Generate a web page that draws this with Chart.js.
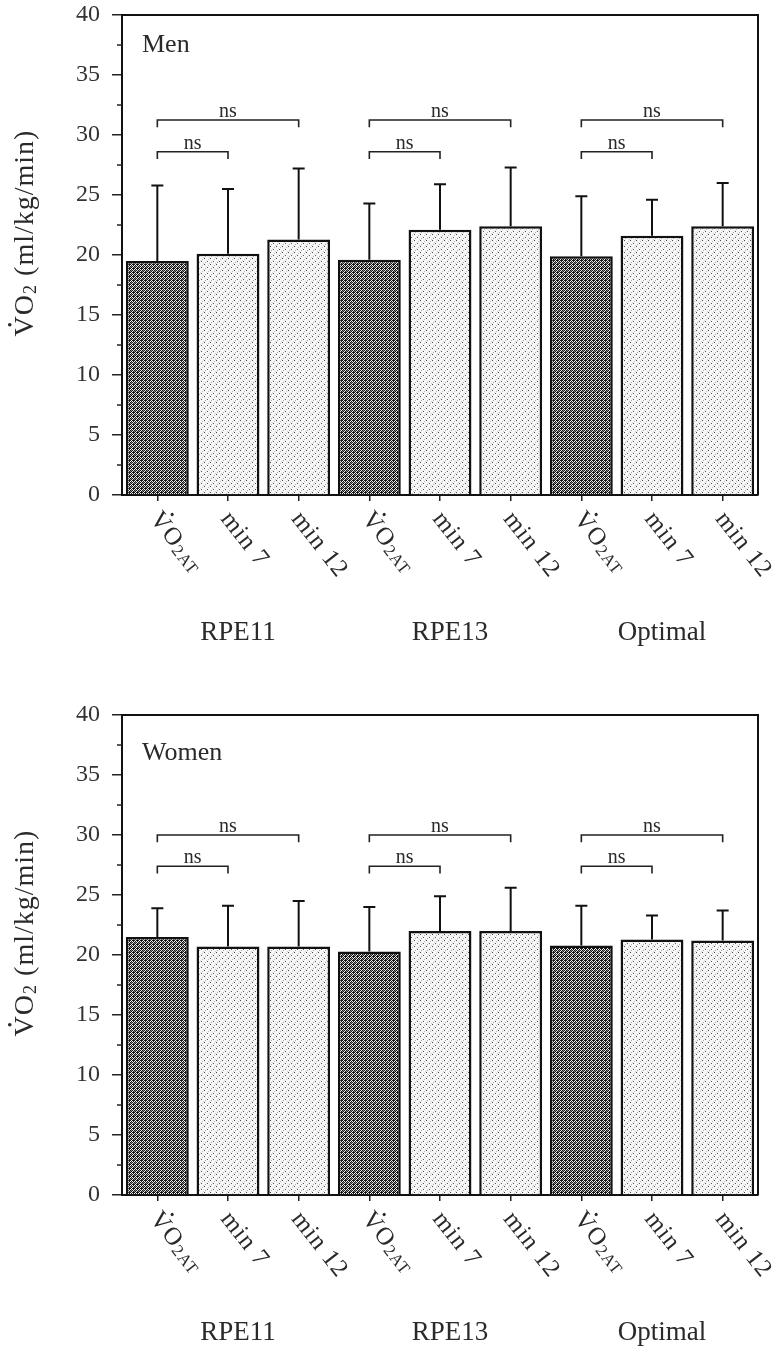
<!DOCTYPE html>
<html>
<head>
<meta charset="utf-8">
<script src="https://cdn.jsdelivr.net/npm/chart.js@4.4.1/dist/chart.umd.min.js"></script>
<style>
  html, body { margin: 0; padding: 0; background: #fff; }
  .panel { position: absolute; left: 0; width: 777px; height: 650px; }
</style>
</head>
<body>
<div class="panel" style="top:0px"><canvas id="men" width="777" height="650"></canvas></div>
<div class="panel" style="top:700px"><canvas id="women" width="777" height="650"></canvas></div>
<script>
// ---------- data ----------
const categories = ['VO2AT', 'min 7', 'min 12', 'VO2AT', 'min 7', 'min 12', 'VO2AT', 'min 7', 'min 12'];
const groupLabels = ['RPE11', 'RPE13', 'Optimal'];
const groupMiddleIndex = [1, 4, 7];

const menMean = [19.5, 20.1, 21.3, 19.6, 22.1, 22.4, 19.9, 21.6, 22.4];
const menSD   = [6.3, 5.4, 5.9, 4.7, 3.8, 4.9, 5.0, 3.0, 3.6];

const womenMean = [21.5, 20.7, 20.7, 20.3, 22.0, 22.0, 20.8, 21.3, 21.2];
const womenSD   = [2.4, 3.4, 3.8, 3.7, 2.9, 3.6, 3.3, 2.0, 2.5];

const bracketFrom = [0, 0, 3, 3, 6, 6];
const bracketTo   = [1, 2, 4, 5, 7, 8];
const menBracketLevel   = [28.6, 31.25, 28.6, 31.25, 28.6, 31.25];
const womenBracketLevel = [27.4, 30.0, 27.4, 30.0, 27.4, 30.0];
const bracketText = 'ns';

const yMin = 0, yMax = 40, yStep = 5, yMinorStep = 2.5;
const yTitleSub = '2', yTitleRest = ' (ml/kg/min)';

// ---------- styles ----------
const SERIF = '"Liberation Serif", "Times New Roman", serif';
const TEXT = '#2a2a2a';
const INK = '#111';

function makePattern(kind) {
  const c = document.createElement('canvas');
  const g = c.getContext('2d');
  if (kind === 'dark') {
    c.width = 4; c.height = 4;
    g.fillStyle = '#f0f0f0'; g.fillRect(0, 0, 4, 4);
    g.fillStyle = '#161616';
    const px = [[0,0],[2,0],[1,1],[3,1],[0,2],[2,2],[1,3],[3,3],[1,0]];
    px.forEach(p => g.fillRect(p[0], p[1], 1, 1));
    g.fillStyle = '#888';
    [[3,2],[2,3]].forEach(p => g.fillRect(p[0], p[1], 1, 1));
  } else {
    c.width = 6; c.height = 6;
    g.fillStyle = '#f7f7f7'; g.fillRect(0, 0, 6, 6);
    const dots = [[0,0,'#444'],[3,3,'#555'],[4,1,'#bbb'],[1,4,'#aaa'],[2,2,'#ddd'],[5,5,'#ccc']];
    dots.forEach(d => { g.fillStyle = d[2]; g.fillRect(d[0], d[1], 1, 1); });
  }
  return g.createPattern(c, 'repeat');
}
const darkPat = makePattern('dark');
const lightPat = makePattern('light');

function drawVO2(ctx, x, y, bigSize, subSize, subText, restText) {
  ctx.font = bigSize + 'px ' + SERIF;
  const vW = ctx.measureText('V').width;
  ctx.fillText('VO', x, y);
  ctx.beginPath();
  ctx.arc(x + vW / 2 + 1, y - bigSize * 0.66 - bigSize * 0.17, bigSize * 0.065, 0, Math.PI * 2);
  ctx.fill();
  let cx = x + ctx.measureText('VO').width;
  ctx.font = subSize + 'px ' + SERIF;
  ctx.fillText(subText, cx, y + bigSize * 0.1);
  cx += ctx.measureText(subText).width;
  if (restText) {
    ctx.font = bigSize + 'px ' + SERIF;
    ctx.fillText(restText, cx, y);
    cx += ctx.measureText(restText).width;
  }
  return cx - x;
}
function measureVO2(ctx, bigSize, subSize, subText, restText) {
  ctx.font = bigSize + 'px ' + SERIF;
  let w = ctx.measureText('VO').width;
  ctx.font = subSize + 'px ' + SERIF;
  w += ctx.measureText(subText).width;
  if (restText) { ctx.font = bigSize + 'px ' + SERIF; w += ctx.measureText(restText).width; }
  return w;
}

function overlayPlugin(means, sds, levels, panelLabel, panelBaseline) {
  return {
    id: 'overlay',
    afterDraw(chart) {
      const ctx = chart.ctx;
      const a = chart.chartArea;
      const xs = chart.scales.x, ys = chart.scales.y;
      ctx.save();
      // frame (top + right)
      ctx.strokeStyle = INK; ctx.lineWidth = 2;
      ctx.beginPath();
      ctx.moveTo(a.left, a.top); ctx.lineTo(a.right, a.top); ctx.lineTo(a.right, a.bottom);
      ctx.stroke();
      // minor y ticks
      ctx.lineWidth = 1.5; ctx.strokeStyle = '#222';
      for (let v = yMin + yMinorStep; v < yMax; v += yStep) {
        const y = ys.getPixelForValue(v);
        ctx.beginPath(); ctx.moveTo(a.left - 5, y); ctx.lineTo(a.left, y); ctx.stroke();
      }
      // error bars
      ctx.strokeStyle = INK; ctx.lineWidth = 2;
      means.forEach((m, i) => {
        const x = xs.getPixelForValue(i);
        const y0 = ys.getPixelForValue(m);
        const y1 = ys.getPixelForValue(m + sds[i]);
        ctx.beginPath();
        ctx.moveTo(x, y0); ctx.lineTo(x, y1);
        ctx.moveTo(x - 6, y1); ctx.lineTo(x + 6, y1);
        ctx.stroke();
      });
      // brackets
      ctx.lineWidth = 1.6; ctx.strokeStyle = '#222'; ctx.fillStyle = TEXT;
      ctx.font = '20px ' + SERIF; ctx.textAlign = 'center'; ctx.textBaseline = 'alphabetic';
      levels.forEach((lv, k) => {
        const x0 = xs.getPixelForValue(bracketFrom[k]);
        const x1 = xs.getPixelForValue(bracketTo[k]);
        const y = ys.getPixelForValue(lv);
        const yd = ys.getPixelForValue(lv - 0.6);
        ctx.beginPath();
        ctx.moveTo(x0, yd); ctx.lineTo(x0, y); ctx.lineTo(x1, y); ctx.lineTo(x1, yd);
        ctx.stroke();
        ctx.fillText(bracketText, (x0 + x1) / 2, y - 3);
      });
      // panel label
      ctx.textAlign = 'left';
      ctx.font = '26px ' + SERIF;
      ctx.fillText(panelLabel, a.left + 20, panelBaseline);
      // rotated category labels
      categories.forEach((lab, i) => {
        const x = xs.getPixelForTick(i);
        ctx.save();
        ctx.translate(x - 8, a.bottom + 24);
        ctx.rotate(52 * Math.PI / 180);
        ctx.textAlign = 'left';
        ctx.letterSpacing = '1px';
        if (lab.startsWith('VO2')) {
          drawVO2(ctx, 0, 0, 25, 17, lab.slice(2), '');
        } else {
          ctx.font = '25px ' + SERIF;
          ctx.fillText(lab, 0, 0);
        }
        ctx.restore();
      });
      // group labels
      ctx.textAlign = 'center';
      ctx.font = '27px ' + SERIF;
      groupLabels.forEach((g, k) => {
        const x = xs.getPixelForTick(groupMiddleIndex[k]) + 10;
        ctx.fillText(g, x, 640);
      });
      // y axis title
      ctx.save();
      ctx.translate(33, (a.top + a.bottom) / 2 - 22);
      ctx.rotate(-Math.PI / 2);
      ctx.textAlign = 'left';
      ctx.letterSpacing = '1px';
      const w = measureVO2(ctx, 28, 18, yTitleSub, yTitleRest);
      drawVO2(ctx, -w / 2, 0, 28, 18, yTitleSub, yTitleRest);
      ctx.restore();
      ctx.restore();
    }
  };
}

function makeChart(id, means, sds, levels, panelLabel, panelBaseline) {
  return new Chart(document.getElementById(id), {
    type: 'bar',
    data: {
      labels: categories,
      datasets: [{
        data: means,
        backgroundColor: c => categories[c.dataIndex] === 'VO2AT' ? darkPat : lightPat,
        borderColor: INK,
        borderWidth: 2.5,
        borderSkipped: 'start',
        barPercentage: 0.89,
        categoryPercentage: 1.0
      }]
    },
    options: {
      responsive: false,
      animation: false,
      devicePixelRatio: 1,
      layout: { padding: { top: 15, right: 19, left: 0, bottom: 0 } },
      plugins: { legend: { display: false }, tooltip: { enabled: false }, title: { display: false } },
      scales: {
        x: {
          offset: true,
          grid: { display: true, offset: false, drawOnChartArea: false, drawTicks: true, tickLength: 6, color: '#222', lineWidth: 1.5 },
          border: { display: true, color: INK, width: 2 },
          ticks: { display: false },
          afterFit(s) { s.height = 155; }
        },
        y: {
          min: yMin, max: yMax,
          ticks: { stepSize: yStep, font: { family: SERIF, size: 24 }, color: '#333', padding: 12 },
          grid: { drawOnChartArea: false, drawTicks: true, tickLength: 10, color: '#222', lineWidth: 1.5 },
          border: { display: true, color: INK, width: 2 },
          afterFit(s) { s.width = 122; s.paddingTop = 0; s.paddingBottom = 0; }
        }
      }
    },
    plugins: [overlayPlugin(means, sds, levels, panelLabel, panelBaseline)]
  });
}

makeChart('men', menMean, menSD, menBracketLevel, 'Men', 52);
makeChart('women', womenMean, womenSD, womenBracketLevel, 'Women', 60);
</script>
</body>
</html>
